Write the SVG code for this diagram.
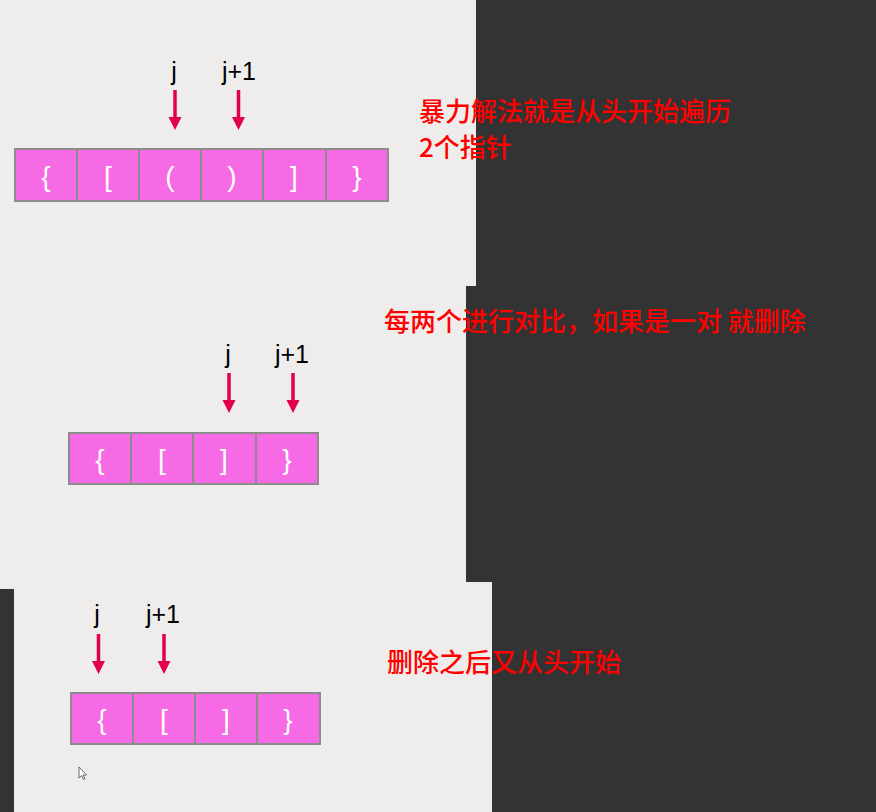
<svg xmlns="http://www.w3.org/2000/svg" width="876" height="812" viewBox="0 0 876 812">
<style>
.panel{fill:#eeedeb}
.cell{fill:#f66ae5;stroke:#8c8c8c;stroke-width:2}
.ch{font-family:"Liberation Sans",Arial,sans-serif;font-size:28px;fill:#ffffff;text-anchor:middle}
.lbl{font-family:"Liberation Sans",Arial,sans-serif;font-size:25px;fill:#000000;text-anchor:middle}
.note{font-family:"Noto Sans CJK SC","Liberation Sans",sans-serif;font-weight:500;font-size:26px;fill:#ff0000}
.arr{stroke:#e2004e;stroke-width:3.5;fill:none}
.head{fill:#e2004e}
</style>
<defs>
<g id="arrow">
<line class="arr" x1="0" y1="0" x2="0" y2="28"/>
<polygon class="head" points="-6.5,27 6.5,27 0,40"/>
</g>
</defs>
<rect x="0" y="0" width="876" height="812" fill="#333333"/>
<g id="panels">
<rect class="panel" x="0" y="0" width="476" height="286"/>
<rect class="panel" x="0" y="286" width="466" height="303"/>
<rect class="panel" x="14" y="582" width="478" height="230"/>
</g>
<g id="row1">
<rect class="cell" x="15" y="149" width="62" height="52"/>
<rect class="cell" x="77" y="149" width="62" height="52"/>
<rect class="cell" x="139" y="149" width="62" height="52"/>
<rect class="cell" x="201" y="149" width="62" height="52"/>
<rect class="cell" x="263" y="149" width="63" height="52"/>
<rect class="cell" x="326" y="149" width="62" height="52"/>
<text class="ch" x="46" y="186">{</text>
<text class="ch" x="108" y="186">[</text>
<text class="ch" x="170" y="186">(</text>
<text class="ch" x="232" y="186">)</text>
<text class="ch" x="294" y="186">]</text>
<text class="ch" x="357" y="186">}</text>
</g>
<g id="row2">
<rect class="cell" x="69" y="433" width="62" height="51"/>
<rect class="cell" x="131" y="433" width="62" height="51"/>
<rect class="cell" x="193" y="433" width="63" height="51"/>
<rect class="cell" x="256" y="433" width="62" height="51"/>
<text class="ch" x="100" y="469">{</text>
<text class="ch" x="162" y="469">[</text>
<text class="ch" x="224" y="469">]</text>
<text class="ch" x="287" y="469">}</text>
</g>
<g id="row3">
<rect class="cell" x="71" y="693" width="62" height="51"/>
<rect class="cell" x="133" y="693" width="62" height="51"/>
<rect class="cell" x="195" y="693" width="62" height="51"/>
<rect class="cell" x="257" y="693" width="63" height="51"/>
<text class="ch" x="102" y="729">{</text>
<text class="ch" x="164" y="729">[</text>
<text class="ch" x="226" y="729">]</text>
<text class="ch" x="288" y="729">}</text>
</g>
<g id="connectors">
<use href="#arrow" x="175" y="90"/>
<use href="#arrow" x="238.5" y="90"/>
<use href="#arrow" x="229" y="373"/>
<use href="#arrow" x="293" y="373"/>
<use href="#arrow" x="98.5" y="634"/>
<use href="#arrow" x="164" y="634"/>
</g>
<g id="labels">
<text class="lbl" x="174" y="80">j</text>
<text class="lbl" x="239" y="80">j+1</text>
<text class="lbl" x="228" y="363">j</text>
<text class="lbl" x="292" y="363">j+1</text>
<text class="lbl" x="97" y="623">j</text>
<text class="lbl" x="163" y="623">j+1</text>
</g>
<g id="notes">
<text class="note" x="419" y="121">暴力解法就是从头开始遍历</text>
<text class="note" x="419" y="157">2个指针</text>
<text class="note" x="384" y="331">每两个进行对比，如果是一对 就删除</text>
<text class="note" x="387" y="672">删除之后又从头开始</text>
</g>
<g id="cursor">
<path d="M79,767 L79,778 L81.5,775.5 L83.5,779.5 L85,778.8 L83,775 L86.5,775 Z" fill="#ffffff" stroke="#444444" stroke-width="0.8"/>
</g>
</svg>
